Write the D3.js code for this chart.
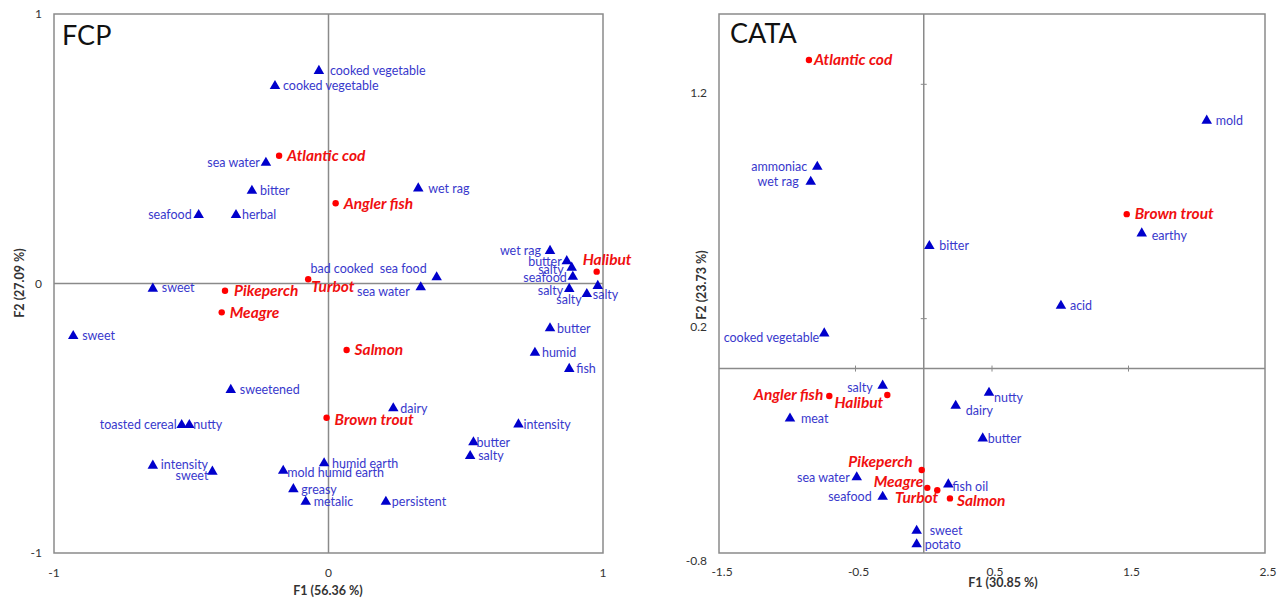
<!DOCTYPE html>
<html>
<head>
<meta charset="utf-8">
<script src="https://cdn.jsdelivr.net/npm/d3@7"></script>
<style>
  body { margin: 0; background: #fff; }
  svg { display: block; font-family: Lato, "Open Sans", sans-serif; }
</style>
</head>
<body>
<svg id="chart" width="1288" height="601"></svg>
<script>
// FCP panel data: [name, F1, F2]
const fcpProducts = [
    ['Atlantic cod', -0.180, 0.474],
    ['Angler fish', 0.026, 0.298],
    ['Halibut', 0.977, 0.044],
    ['Turbot', -0.074, 0.016],
    ['Pikeperch', -0.377, -0.027],
    ['Meagre', -0.389, -0.107],
    ['Salmon', 0.066, -0.247],
    ['Brown trout', -0.007, -0.498],
];
const fcpAttributes = [
    ['cooked vegetable', -0.035, 0.789],
    ['cooked vegetable', -0.195, 0.733],
    ['sea water', -0.228, 0.448],
    ['bitter', -0.279, 0.344],
    ['seafood', -0.473, 0.254],
    ['herbal', -0.337, 0.254],
    ['wet rag', 0.327, 0.353],
    ['sweet', -0.640, -0.019],
    ['sweet', -0.930, -0.195],
    ['bad cooked  sea food', 0.394, 0.023],
    ['sea water', 0.336, -0.014],
    ['wet rag', 0.807, 0.121],
    ['butter', 0.868, 0.083],
    ['salty', 0.886, 0.059],
    ['seafood', 0.890, 0.025],
    ['salty', 0.877, -0.020],
    ['salty', 0.941, -0.039],
    ['salty', 0.981, -0.009],
    ['butter', 0.807, -0.166],
    ['humid', 0.752, -0.257],
    ['fish', 0.877, -0.317],
    ['sweetened', -0.356, -0.395],
    ['toasted cereal', -0.535, -0.525],
    ['nutty', -0.507, -0.525],
    ['intensity', -0.640, -0.676],
    ['sweet', -0.423, -0.698],
    ['mold humid earth', -0.165, -0.695],
    ['humid earth', -0.016, -0.667],
    ['greasy', -0.128, -0.763],
    ['metalic', -0.083, -0.810],
    ['dairy', 0.236, -0.463],
    ['intensity', 0.692, -0.523],
    ['butter', 0.528, -0.589],
    ['salty', 0.516, -0.640],
    ['persistent', 0.209, -0.810],
];
const fcpXTicks = [-1, 0, 1];
const fcpYTicks = [-1, 0, 1];

// CATA panel data: [name, F1, F2]
const cataProducts = [
    ['Atlantic cod', -0.841, 1.304],
    ['Brown trout', 1.487, 0.646],
    ['Angler fish', -0.692, -0.130],
    ['Halibut', -0.267, -0.126],
    ['Pikeperch', -0.015, -0.446],
    ['Meagre', 0.026, -0.522],
    ['Turbot', 0.099, -0.532],
    ['Salmon', 0.192, -0.567],
];
const cataAttributes = [
    ['mold', 2.073, 1.045],
    ['ammoniac', -0.780, 0.848],
    ['wet rag', -0.828, 0.784],
    ['bitter', 0.041, 0.510],
    ['earthy', 1.597, 0.564],
    ['acid', 1.005, 0.255],
    ['cooked vegetable', -0.729, 0.137],
    ['salty', -0.301, -0.086],
    ['nutty', 0.478, -0.116],
    ['dairy', 0.234, -0.172],
    ['meat', -0.980, -0.226],
    ['butter', 0.432, -0.311],
    ['sea water', -0.491, -0.477],
    ['fish oil', 0.180, -0.507],
    ['seafood', -0.301, -0.560],
    ['sweet', -0.052, -0.705],
    ['potato', -0.052, -0.763],
];
const cataXTicks = [-1.5, -0.5, 0.5, 1.5, 2.5];
const cataYTicks = [-0.8, 0.2, 1.2];

// label placement: [dx, dy, anchor]
const fcpProductLabels = [
    [8, 0, 'start'], [8, 0, 'start'], [-14, -12, 'start'], [3, 7, 'start'],
    [9, 0, 'start'], [8, 0, 'start'], [8, 0, 'start'], [8, 2, 'start'],
];
const fcpAttrLabels = [
    [11, 0, 'start'], [8, 0, 'start'], [-6, 0, 'end'], [8, 0, 'start'],
    [-7, 0, 'end'], [6, 0, 'start'], [10, 0, 'start'], [9, -1, 'start'],
    [9, 0, 'start'], [-10, -9, 'end'], [-11, 4, 'end'], [-9, 0, 'end'],
    [-5, 0, 'end'], [-8, 2, 'end'], [-6, 1, 'end'], [-6, 2, 'end'],
    [-5, 6, 'end'], [-5, 9, 'start'], [7, 0, 'start'], [7, 0, 'start'],
    [7, 0, 'start'], [9, 0, 'start'], [-5, 0, 'end'], [4, 0, 'start'],
    [8, -1, 'start'], [-4, 4, 'end'], [4, 2, 'start'], [8, 0, 'start'],
    [8, 0, 'start'], [8, 0, 'start'], [7, 0, 'start'], [5, 0, 'start'],
    [3, 0, 'start'], [8, 0, 'start'], [6, 0, 'start'],
];
const cataProductLabels = [
    [5, 0, 'start'], [8, -1, 'start'], [-6, -1, 'end'], [-4, 8, 'end'],
    [-9, -8, 'end'], [-4, -6, 'end'], [1, 7, 'end'], [7, 2, 'start'],
];
const cataAttrLabels = [
    [9, 0, 'start'], [-10, 0, 'end'], [-12, 0, 'end'], [10, 0, 'start'],
    [10, 2, 'start'], [9, 0, 'start'], [-5, 4, 'end'], [-10, 2, 'end'],
    [5, 5, 'start'], [10, 5, 'start'], [11, 0, 'start'], [5, 0, 'start'],
    [-7, 0, 'end'], [4, 2, 'start'], [-11, 0, 'end'], [13, 0, 'start'],
    [8, 0, 'start'],
];

const svg = d3.select('#chart');
svg.append('rect').attr('width', 1288).attr('height', 601).attr('fill', '#fff');

function drawPanel(p) {
    const x = d3.scaleLinear().domain(p.xDomain).range(p.xRange);
    const y = d3.scaleLinear().domain(p.yDomain).range(p.yRange);
    const g = svg.append('g');

    // frame
    g.append('rect')
        .attr('x', p.xRange[0])
        .attr('y', p.yRange[1])
        .attr('width', p.xRange[1] - p.xRange[0])
        .attr('height', p.yRange[0] - p.yRange[1])
        .attr('fill', 'none')
        .attr('stroke', '#8a8a8a')
        .attr('stroke-width', 1.5);

    // axes through origin
    g.append('line')
        .attr('x1', x(0)).attr('x2', x(0))
        .attr('y1', p.yRange[1]).attr('y2', p.yRange[0])
        .attr('stroke', '#8a8a8a').attr('stroke-width', 1.5);
    g.append('line')
        .attr('x1', p.xRange[0]).attr('x2', p.xRange[1])
        .attr('y1', y(p.yCross)).attr('y2', y(p.yCross))
        .attr('stroke', '#8a8a8a').attr('stroke-width', 1.5);

    // small tick marks on the crossing axes
    if (p.crossTicks) {
        g.selectAll('.xt')
            .data(p.xTicks.filter((t) => t > p.xDomain[0] && t < p.xDomain[1]))
            .enter()
            .append('line')
            .attr('x1', (d) => x(d)).attr('x2', (d) => x(d))
            .attr('y1', y(p.yCross) - 3).attr('y2', y(p.yCross) + 3)
            .attr('stroke', '#8a8a8a');
        g.selectAll('.yt')
            .data(p.yTicks.filter((t) => t > p.yDomain[0] && t < p.yDomain[1]))
            .enter()
            .append('line')
            .attr('x1', x(0) - 3).attr('x2', x(0) + 3)
            .attr('y1', (d) => y(d)).attr('y2', (d) => y(d))
            .attr('stroke', '#8a8a8a');
    }

    // tick labels
    g.selectAll('.xl')
        .data(p.xTicks)
        .enter()
        .append('text')
        .attr('x', (d) => x(d) + p.xLabelDx)
        .attr('y', p.xLabelY)
        .attr('dy', '0.35em')
        .attr('text-anchor', 'middle')
        .attr('font-size', 12)
        .attr('fill', '#333')
        .text((d) => d);
    g.selectAll('.yl')
        .data(p.yTicks)
        .enter()
        .append('text')
        .attr('x', p.yLabelX)
        .attr('y', (d) => y(d) + p.yLabelDy)
        .attr('dy', '0.35em')
        .attr('text-anchor', 'end')
        .attr('font-size', 12)
        .attr('fill', '#333')
        .text((d) => d);

    // axis titles
    g.append('text')
        .attr('x', p.xTitle[0]).attr('y', p.xTitle[1])
        .attr('dy', '0.35em')
        .attr('text-anchor', 'middle')
        .attr('font-size', 12.5)
        .attr('font-weight', 'bold')
        .attr('fill', '#333')
        .text(p.xTitleText);
    g.append('text')
        .attr('transform', `translate(${p.yTitle[0]},${p.yTitle[1]}) rotate(-90)`)
        .attr('dy', '0.35em')
        .attr('text-anchor', 'middle')
        .attr('font-size', 12.5)
        .attr('font-weight', 'bold')
        .attr('fill', '#333')
        .text(p.yTitleText);

    // panel title
    g.append('text')
        .attr('x', p.title[0]).attr('y', p.title[1])
        .attr('font-size', 27)
        .attr('fill', '#111')
        .text(p.titleText);

    // attributes (triangles)
    const tri = d3.symbol().type(d3.symbolTriangle).size(48);
    g.selectAll('.attr')
        .data(p.attributes)
        .enter()
        .append('path')
        .attr('d', tri)
        .attr('transform', (d) => `translate(${x(d[1])},${y(d[2])})`)
        .attr('fill', '#0000cc');
    g.selectAll('.attrLabel')
        .data(p.attributes)
        .enter()
        .append('text')
        .attr('x', (d, i) => x(d[1]) + p.attrLabels[i][0])
        .attr('y', (d, i) => y(d[2]) + p.attrLabels[i][1])
        .attr('dy', '0.35em')
        .attr('text-anchor', (d, i) => p.attrLabels[i][2])
        .attr('font-size', 12.5)
        .attr('fill', '#3838cc')
        .style('white-space', 'pre')
        .text((d) => d[0]);

    // products (red dots)
    g.selectAll('.prod')
        .data(p.products)
        .enter()
        .append('circle')
        .attr('cx', (d) => x(d[1]))
        .attr('cy', (d) => y(d[2]))
        .attr('r', 3.2)
        .attr('fill', '#ff0000');
    g.selectAll('.prodLabel')
        .data(p.products)
        .enter()
        .append('text')
        .attr('x', (d, i) => x(d[1]) + p.prodLabels[i][0])
        .attr('y', (d, i) => y(d[2]) + p.prodLabels[i][1])
        .attr('dy', '0.35em')
        .attr('text-anchor', (d, i) => p.prodLabels[i][2])
        .attr('font-size', 15.5)
        .attr('font-weight', 'bold')
        .attr('font-style', 'italic')
        .attr('fill', '#f01010')
        .text((d) => d[0]);
}

drawPanel({
    xDomain: [-1, 1], xRange: [54, 603],
    yDomain: [-1, 1], yRange: [553, 14],
    yCross: 0, crossTicks: false,
    xTicks: fcpXTicks, yTicks: fcpYTicks,
    xLabelY: 573, xLabelDx: 0, yLabelX: 42, yLabelDy: 0,
    xTitle: [328, 591], xTitleText: 'F1 (56.36 %)',
    yTitle: [20, 283], yTitleText: 'F2 (27.09 %)',
    title: [62, 45], titleText: 'FCP',
    products: fcpProducts, prodLabels: fcpProductLabels,
    attributes: fcpAttributes, attrLabels: fcpAttrLabels,
});

drawPanel({
    xDomain: [-1.5, 2.5], xRange: [719, 1265],
    yDomain: [-0.8, 1.5], yRange: [553, 14],
    yCross: -0.013, crossTicks: true,
    xTicks: cataXTicks, yTicks: cataYTicks,
    xLabelY: 572, xLabelDx: 3, yLabelX: 707, yLabelDy: 8,
    xTitle: [1003, 583], xTitleText: 'F1 (30.85 %)',
    yTitle: [702, 285], yTitleText: 'F2 (23.73 %)',
    title: [730, 43], titleText: 'CATA',
    products: cataProducts, prodLabels: cataProductLabels,
    attributes: cataAttributes, attrLabels: cataAttrLabels,
});
</script>
</body>
</html>
